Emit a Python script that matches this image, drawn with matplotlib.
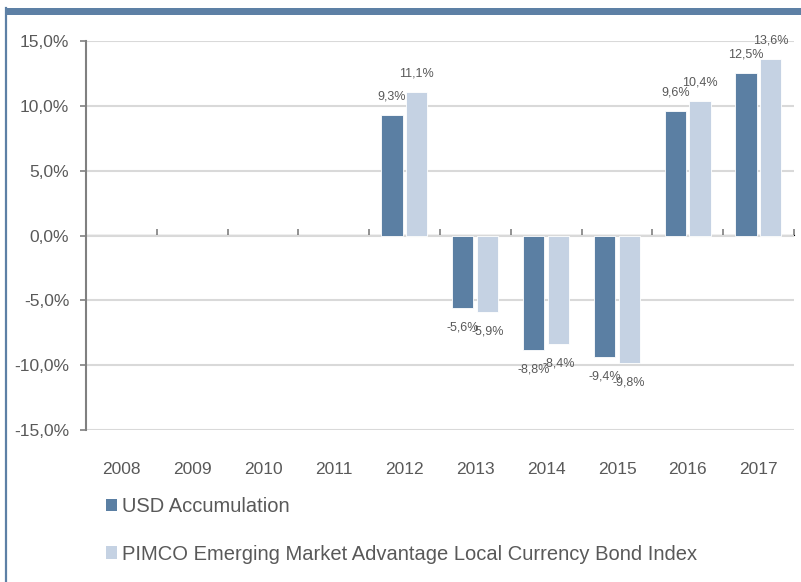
import matplotlib
matplotlib.use("Agg")
import matplotlib.pyplot as plt
import numpy as np
from matplotlib.patches import Rectangle, Patch
from matplotlib.lines import Line2D

plt.rcParams['font.family'] = ['Liberation Sans', 'DejaVu Sans']

years = ['2008', '2009', '2010', '2011', '2012', '2013', '2014', '2015', '2016', '2017']
usd_acc = [np.nan, np.nan, np.nan, np.nan, 9.3, -5.6, -8.8, -9.4, 9.6, 12.5]
index_vals = [np.nan, np.nan, np.nan, np.nan, 11.1, -5.9, -8.4, -9.8, 10.4, 13.6]
series_names = ['USD Accumulation', 'PIMCO Emerging Market Advantage Local Currency Bond Index']
yticks = [-15, -10, -5, 0, 5, 10, 15]

dark = '#5B7FA3'
light = '#C5D2E3'
txt = '#595959'
W, H = 801, 582

fig = plt.figure(figsize=(W / 100, H / 100), dpi=100)
ax = fig.add_axes([86 / W, 1 - 430 / H, (794 - 86) / W, (430 - 41) / H])

x = np.arange(len(years))
bw = 0.30
off = 0.183
b1 = ax.bar(x - off + 0.005, usd_acc, bw, color=dark, edgecolor='white', linewidth=0.6, zorder=3)
b2 = ax.bar(x + off - 0.01, index_vals, bw, color=light, edgecolor='white', linewidth=0.6, zorder=3)

def fmt(v):
    return f"{v:.1f}".replace('.', ',') + '%'

for bars, vals in ((b1, usd_acc), (b2, index_vals)):
    for rect, v in zip(bars, vals):
        if np.isnan(v):
            continue
        cx = rect.get_x() + rect.get_width() / 2
        dy = 13.3 if v >= 0 else -14.0
        ax.annotate(fmt(v), (cx, v), xytext=(0, dy), textcoords='offset points',
                    ha='center', va='center', fontsize=9, color=txt, zorder=5,
                    annotation_clip=False)

ax.set_xlim(-0.5, len(years) - 0.5)
ax.set_ylim(-15, 15)
ax.set_yticks(yticks)
ax.set_yticklabels([f"{v:.1f}".replace('.', ',') + '%' for v in yticks])
ax.yaxis.grid(True, color='#D9D9D9', linewidth=1.5, zorder=0)
ax.set_axisbelow(True)
ax.tick_params(axis='y', length=4, width=1.2, color='#808080', pad=8, labelsize=12.5, labelcolor=txt)

ax.set_xticks(x)
ax.set_xticklabels(years)
ax.tick_params(axis='x', length=0, pad=23, labelsize=12.5, labelcolor=txt)

for s in ('top', 'right', 'bottom'):
    ax.spines[s].set_visible(False)
ax.spines['left'].set_color('#808080')
ax.spines['left'].set_linewidth(1.5)

sec = ax.secondary_xaxis(0.5)
sec.set_xticks(np.arange(len(years) + 1) - 0.5)
sec.set_xticklabels([])
sec.tick_params(axis='x', length=4, width=1.2, color='#7F7F7F', direction='out')
sec.spines['bottom'].set_color('#7F7F7F')
sec.spines['bottom'].set_linewidth(1.6)

handles = [Patch(facecolor=dark, edgecolor='none'), Patch(facecolor=light, edgecolor='none')]
fig.legend(handles, series_names, loc='upper left', bbox_to_anchor=(106 / W, 1 - 497 / H),
           frameon=False, fontsize=14.5, labelcolor=txt, handlelength=0.55, handleheight=0.55,
           handletextpad=0.25, labelspacing=1.42, borderpad=0, borderaxespad=0)

# decorative frame: top band and left border
fig.add_artist(Rectangle((6 / W, 1 - 15 / H), 1 - 6 / W, 7 / H, transform=fig.transFigure,
                         facecolor='#5D80A5', edgecolor='none'))
fig.add_artist(Line2D([6 / W, 6 / W], [0, 1 - 8 / H], transform=fig.transFigure,
                      color='#5D80A5', linewidth=1.6))

fig.savefig('out.png', dpi=100)
